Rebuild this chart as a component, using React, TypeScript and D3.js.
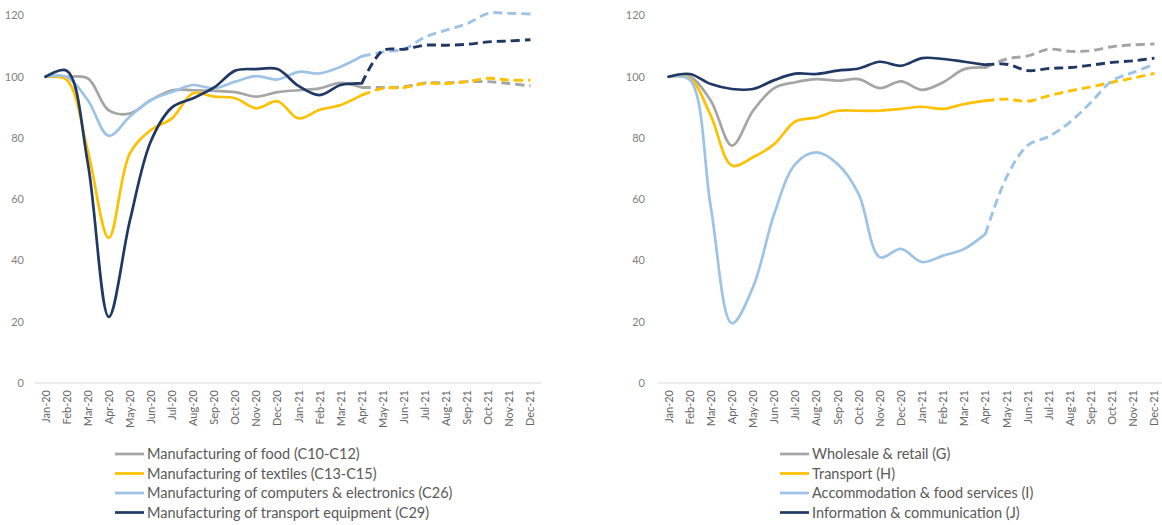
import React from "react";
import * as d3 from "d3";

const months = [
  "Jan-20", "Feb-20", "Mar-20", "Apr-20", "May-20", "Jun-20", "Jul-20", "Aug-20", "Sep-20", "Oct-20", "Nov-20", "Dec-20",
  "Jan-21", "Feb-21", "Mar-21", "Apr-21", "May-21", "Jun-21", "Jul-21", "Aug-21", "Sep-21", "Oct-21", "Nov-21", "Dec-21",
];
const yTicks = [0, 20, 40, 60, 80, 100, 120];
const lastActualIndex = 15; // Apr-21: solid up to here, dashed (forecast) after

// Left panel: manufacturing
const foodC10C12 = [100, 100, 99.5, 89, 88, 92.4, 95.6, 95.6, 95.4, 95, 93.5, 95, 95.6, 96.2, 98, 96.5, 96.5, 96.7, 98, 98, 98.4, 98.4, 97.8, 97];
const textilesC13C15 = [100, 99, 76, 47.4, 75, 82.6, 86.4, 94.6, 93.5, 93, 89.7, 92, 86.4, 89.2, 90.8, 94, 96.2, 96.5, 97.8, 97.8, 98.4, 99.5, 98.9, 98.9];
const computersC26 = [100, 100, 92.4, 80.7, 87, 92.4, 95, 97.3, 96.2, 98.4, 100.2, 99.1, 101.6, 101.1, 103.3, 106.7, 108.1, 109, 113, 115.2, 117.4, 120.7, 120.7, 120.5];
const transportEquipC29 = [100, 102, 72, 21.6, 53, 79, 90, 93, 96.5, 102, 102.5, 102.5, 97, 94, 97.3, 97.8, 108.5, 109, 110.3, 110.3, 110.6, 111.4, 111.7, 112.1];

// Right panel: services
const wholesaleG = [100, 100, 92.2, 77.5, 88.9, 96.3, 98.2, 99.2, 98.7, 99.2, 96.3, 98.5, 95.7, 98.2, 102.5, 103, 105.8, 106.8, 109, 108.3, 108.5, 109.8, 110.4, 110.7];
const transportH = [100, 99.5, 87.3, 71, 73.7, 78, 85.4, 86.7, 88.9, 88.9, 88.9, 89.5, 90.2, 89.5, 91.1, 92.2, 92.7, 92, 93.8, 95.4, 96.7, 98.2, 99.6, 101.1];
const accommodationI = [100, 99, 57.4, 19.5, 31.3, 55.2, 71.5, 75.3, 71.5, 61.7, 41.1, 43.8, 39.5, 41.6, 43.8, 48.7, 67.2, 77.6, 80.5, 85.2, 91.7, 98.7, 101.4, 104.1];
const infoCommJ = [100, 100.9, 97.6, 96, 96, 98.9, 101, 100.9, 102, 102.7, 104.9, 103.6, 106.1, 105.8, 104.9, 103.9, 104.1, 102, 102.7, 103, 103.8, 104.7, 105.2, 106.1];

const leftNames = [
  "Manufacturing of food (C10-C12)",
  "Manufacturing of textiles (C13-C15)",
  "Manufacturing of computers & electronics (C26)",
  "Manufacturing of transport equipment (C29)",
];
const rightNames = [
  "Wholesale & retail (G)",
  "Transport (H)",
  "Accommodation & food services (I)",
  "Information & communication (J)",
];
const seriesColors = ["#A5A5A5", "#FFC000", "#9DC3E6", "#1F3864"];

const FONT = "Lato, 'Open Sans', 'Liberation Sans', sans-serif";

type PanelProps = {
  series: number[][];
  names: string[];
  x0: number;
  x1: number;
  yLabelX: number;
  legendX: number;
};

function Panel({ series, names, x0, x1, yLabelX, legendX }: PanelProps) {
  const x = d3.scalePoint<string>().domain(months).range([x0, x1]).padding(0.5);
  const y = d3.scaleLinear().domain([0, 120]).range([383, 15.5]);

  const makePath = (vals: number[], offset: number) =>
    d3
      .line<number>()
      .x((_, i) => x(months[i + offset]) as number)
      .y((d) => y(d))
      .curve(d3.curveCatmullRom.alpha(0.5))(vals) as string;

  return (
    <g>
      {yTicks.map((t) => (
        <text
          key={t}
          x={yLabelX}
          y={y(t)}
          dy="0.35em"
          textAnchor="end"
          fontSize={11}
          fill="#7f7f7f"
          fontFamily={FONT}
        >
          {t}
        </text>
      ))}
      <line x1={x0} x2={x1} y1={y(0)} y2={y(0)} stroke="#d9d9d9" strokeWidth={1} />
      {months.map((m) => (
        <text
          key={m}
          transform={`translate(${(x(m) as number) + 4},${y(0) + 7}) rotate(-90)`}
          textAnchor="end"
          fontSize={11}
          fill="#666666"
          fontFamily={FONT}
        >
          {m}
        </text>
      ))}
      {series.map((vals, k) => (
        <g key={k}>
          <path
            d={makePath(vals.slice(0, lastActualIndex + 1), 0)}
            fill="none"
            stroke={seriesColors[k]}
            strokeWidth={2.7}
            strokeLinejoin="round"
            strokeLinecap="round"
          />
          <path
            d={makePath(vals.slice(lastActualIndex), lastActualIndex)}
            fill="none"
            stroke={seriesColors[k]}
            strokeWidth={2.9}
            strokeDasharray="9,5"
          />
        </g>
      ))}
      {names.map((n, k) => {
        const ly = 454 + k * 19.5;
        return (
          <g key={n}>
            <line x1={legendX} x2={legendX + 29} y1={ly} y2={ly} stroke={seriesColors[k]} strokeWidth={2.7} />
            <text x={legendX + 32} y={ly} dy="0.35em" fontSize={14.5} fill="#595959" fontFamily={FONT}>
              {n}
            </text>
          </g>
        );
      })}
    </g>
  );
}

export default function App() {
  return (
    <svg
      width={1162}
      height={525}
      style={{ position: "absolute", left: 0, top: 0, background: "#ffffff" }}
    >
      <rect x={0} y={0} width={1162} height={525} fill="#ffffff" />
      <Panel
        series={[foodC10C12, textilesC13C15, computersC26, transportEquipC29]}
        names={leftNames}
        x0={35}
        x1={541}
        yLabelX={24}
        legendX={115}
      />
      <Panel
        series={[wholesaleG, transportH, accommodationI, infoCommJ]}
        names={rightNames}
        x0={658}
        x1={1165}
        yLabelX={645}
        legendX={780}
      />
    </svg>
  );
}
